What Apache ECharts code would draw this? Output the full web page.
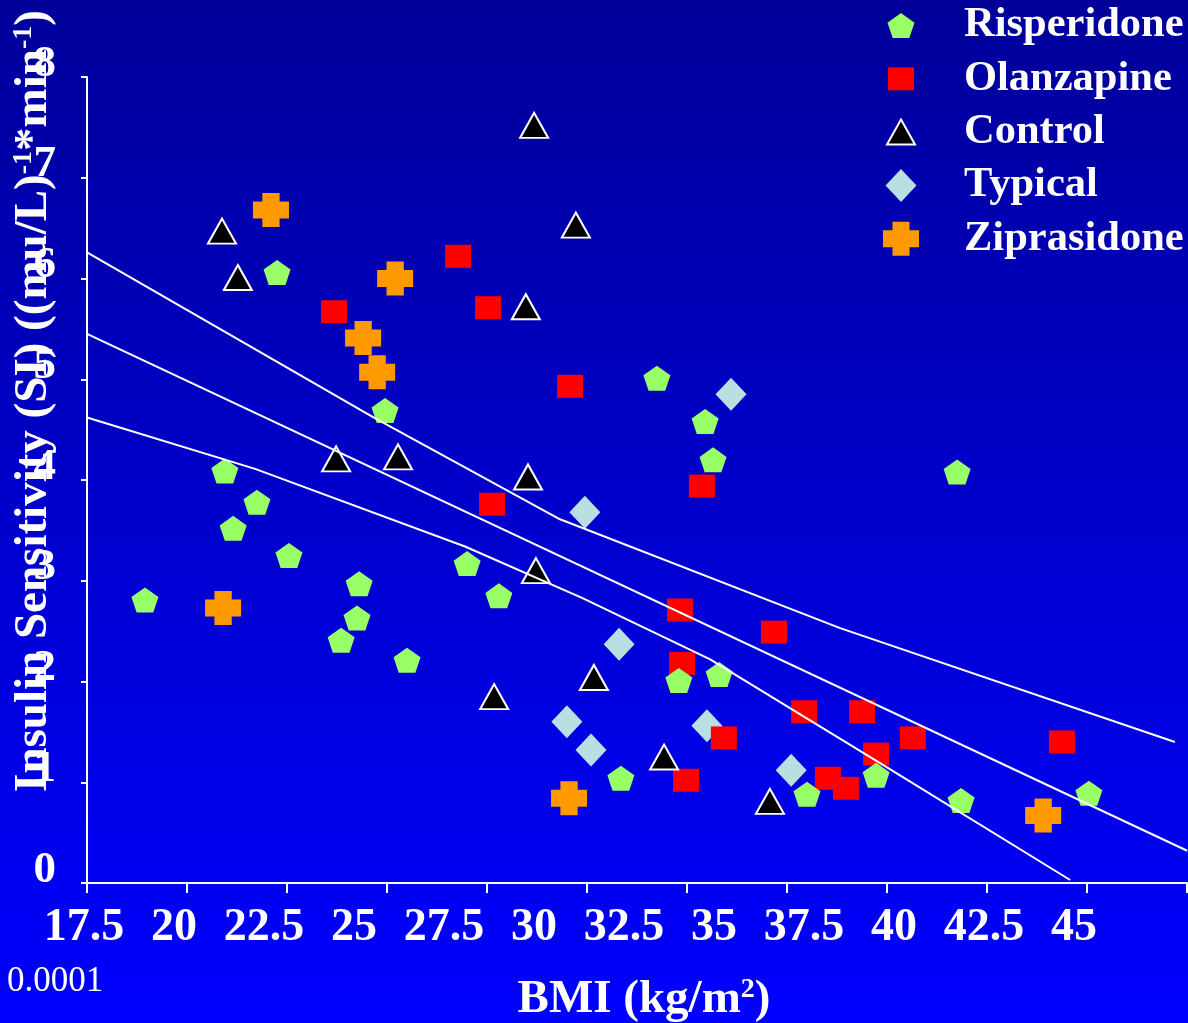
<!DOCTYPE html>
<html>
<head>
<meta charset="utf-8">
<script src="https://cdn.jsdelivr.net/npm/echarts@6/dist/echarts.min.js"></script>
<style>
  html, body { margin: 0; padding: 0; background: #0000cc; }
  #chart { width: 1188px; height: 1023px; }
</style>
</head>
<body>
<div id="chart"></div>
<script>
// Axis tick labels
const xTickLabels = ['17.5', '20', '22.5', '25', '27.5', '30', '32.5', '35', '37.5', '40', '42.5', '45'];
const yTickLabels = ['0', '1', '2', '3', '4', '5', '6', '7', '8'];

// [BMI (kg/m2), insulin sensitivity]
const risperidone = [
  [22.78, 6.06], [25.78, 4.69], [21.33, 4.09], [22.22, 3.78], [21.56, 3.52],
  [23.11, 3.25], [19.11, 2.81], [25.06, 2.97], [25.00, 2.63], [24.56, 2.41],
  [26.39, 2.21], [28.06, 3.17], [28.94, 2.85], [33.33, 5.01], [34.67, 4.58],
  [34.89, 4.20], [33.94, 2.01], [35.06, 2.07], [32.33, 1.04], [37.50, 0.88],
  [39.42, 1.07], [41.67, 4.08], [41.78, 0.82], [45.33, 0.89]
];
const olanzapine = [
  [24.36, 5.67], [27.81, 6.22], [28.64, 5.71], [30.92, 4.93], [28.75, 3.76],
  [34.58, 3.94], [33.97, 2.71], [34.03, 2.18], [36.58, 2.49], [35.19, 1.44],
  [34.14, 1.02], [37.42, 1.70], [39.03, 1.70], [39.42, 1.28], [38.08, 1.04],
  [38.58, 0.94], [40.44, 1.44], [44.58, 1.40]
];
const control = [
  [21.25, 6.47], [21.69, 6.01], [29.92, 7.52], [31.08, 6.53], [29.69, 5.72],
  [24.42, 4.21], [26.14, 4.23], [29.75, 4.03], [29.97, 3.10], [28.81, 1.85],
  [31.58, 2.04], [33.53, 1.25], [36.47, 0.81]
];
const typical = [
  [35.39, 4.85], [31.33, 3.68], [32.28, 2.37], [30.83, 1.60], [31.50, 1.32],
  [34.72, 1.56], [37.06, 1.12]
];
const ziprasidone = [
  [22.61, 6.68], [26.06, 6.00], [25.17, 5.41], [25.56, 5.07], [21.28, 2.73],
  [30.89, 0.84], [44.06, 0.67]
];

// Regression line with its upper and lower confidence bands
const regressionLine = [[17.5, 5.45], [48.06, 0.32]];
const upperBand = [[17.5, 6.26], [25.47, 4.62], [30.64, 3.61], [38.42, 2.53], [47.72, 1.40]];
const lowerBand = [[17.5, 4.62], [22.17, 4.11], [28.0, 3.34], [31.25, 2.83], [34.81, 2.22], [39.53, 1.19], [44.81, 0.03]];

const FONT = '"Liberation Serif", "Times New Roman", serif';
const WHITE = '#ffffff';

const PENTAGON = 'path://M50,0 L97.6,34.5 L79.4,90.5 L20.6,90.5 L2.4,34.5 Z';
const CROSS = 'path://M26,0 H74 V25 H100 V75 H74 V100 H26 V75 H0 V25 H26 Z';

// Legend icons drawn inside a common 36x34 box (corner moves keep the box size)
const BOX = 'M0,0 M36,34 ';
const LEGEND_ICONS = {
  Risperidone: 'path://' + BOX + 'M18,4.5 L31.5,14.2 L26.3,29.5 L9.7,29.5 L4.5,14.2 Z',
  Olanzapine: 'path://' + BOX + 'M5,5.5 H31 V28.5 H5 Z',
  Control: 'path://' + BOX + 'M18,4.5 L32,29.5 L4,29.5 Z',
  Typical: 'path://' + BOX + 'M18,0.5 L33.5,17 L18,33.5 L2.5,17 Z',
  Ziprasidone: 'path://' + BOX + 'M9.5,0 H26.5 V8.5 H36 V25.5 H26.5 V34 H9.5 V25.5 H0 V8.5 H9.5 Z'
};
const legendOrder = ['Risperidone', 'Olanzapine', 'Control', 'Typical', 'Ziprasidone'];

const chart = echarts.init(document.getElementById('chart'), null, { renderer: 'canvas' });

function lineSeries(name, data) {
  return {
    name: name, type: 'line', data: data, xAxisIndex: 0, yAxisIndex: 0,
    showSymbol: false, symbol: 'none', silent: true, z: 5,
    lineStyle: { color: WHITE, width: 2 }, animation: false
  };
}

const option = {
  animation: false,
  graphic: [
    {
      type: 'rect', z: -10, silent: true,
      shape: { x: 0, y: 0, width: 1188, height: 1023 },
      style: {
        fill: new echarts.graphic.LinearGradient(0, 0, 0, 1, [
          { offset: 0, color: '#000099' },
          { offset: 1, color: '#0000ff' }
        ])
      }
    },
    {
      type: 'text', left: 7, top: 964, silent: true,
      style: { text: '0.0001', fill: WHITE, font: 'normal 35px ' + FONT }
    }
  ],
  grid: { left: 87, right: 1, top: 77, bottom: 140, outerBoundsMode: 'none' },
  legend: {
    orient: 'vertical', left: 882, top: 4, padding: 0,
    itemWidth: 36, itemHeight: 34, itemGap: 10.3,
    data: legendOrder.map(n => ({ name: n, icon: LEGEND_ICONS[n] })),
    textStyle: {
      color: WHITE, fontFamily: FONT, fontWeight: 'bold', fontSize: 42.5,
      padding: [0, 0, 0, 40]
    }
  },
  xAxis: [
    {
      type: 'value', position: 'bottom', min: 17.5, max: 17.5 + 2.5 * 1100 / 90, interval: 2.5,
      axisLine: { show: true, onZero: false, lineStyle: { color: WHITE, width: 2 } },
      axisTick: { show: false }, splitLine: { show: false },
      axisLabel: {
        color: WHITE, fontFamily: FONT, fontWeight: 'bold', fontSize: 46, lineHeight: 46,
        margin: 22, padding: [0, 6, 0, 0], showMaxLabel: true,
        formatter: v => {
          const i = Math.round((v - 17.5) / 2.5);
          return (Math.abs(v - (17.5 + i * 2.5)) < 1e-6 && xTickLabels[i]) ? xTickLabels[i] : '';
        }
      },
      name: '{t|BMI (kg/m}{s|2}{t|)}', nameLocation: 'middle', nameGap: 93, nameMoveOverlap: false,
      nameTextStyle: {
        color: WHITE, fontFamily: FONT, fontWeight: 'bold', fontSize: 47, lineHeight: 47,
        padding: [0, 0, 0, 14],
        rich: {
          t: { color: WHITE, fontFamily: FONT, fontWeight: 'bold', fontSize: 47, lineHeight: 47 },
          s: { color: WHITE, fontFamily: FONT, fontWeight: 'bold', fontSize: 28, lineHeight: 28, verticalAlign: 'top' }
        }
      }
    },
    {
      type: 'value', position: 'bottom', min: 17.5, max: 45, interval: 2.5,
      axisLine: { show: false },
      axisTick: { show: true, length: 10, lineStyle: { color: WHITE, width: 2 } },
      axisLabel: { show: false }, splitLine: { show: false }
    }
  ],
  yAxis: {
    type: 'value', min: 0, max: 8, interval: 1,
    axisLine: { show: true, lineStyle: { color: WHITE, width: 2 } },
    axisTick: { show: true, length: 6, lineStyle: { color: WHITE, width: 2 } },
    splitLine: { show: false },
    axisLabel: {
      color: WHITE, fontFamily: FONT, fontWeight: 'bold', fontSize: 45, lineHeight: 26,
      margin: 31, verticalAlign: 'bottom',
      formatter: v => yTickLabels[Math.round(v)] || ''
    },
    name: '{t|Insulin Sensitivity (SI) ((mu/L)}{s|-1}{t|*min}{s|-1}{t|)}',
    nameLocation: 'middle', nameGap: 30, nameMoveOverlap: false,
    nameTextStyle: {
      color: WHITE, fontFamily: FONT, fontWeight: 'bold', fontSize: 47, lineHeight: 47,
      padding: [0, 0, 0, 158],
      rich: {
        t: { color: WHITE, fontFamily: FONT, fontWeight: 'bold', fontSize: 47, lineHeight: 47 },
        s: { color: WHITE, fontFamily: FONT, fontWeight: 'bold', fontSize: 28, lineHeight: 28, verticalAlign: 'top' }
      }
    }
  },
  series: [
    {
      name: 'Typical', type: 'scatter', data: typical, symbol: 'diamond', symbolSize: [31, 33],
      itemStyle: { color: '#b9dfe3', opacity: 1 }
    },
    {
      name: 'Olanzapine', type: 'scatter', data: olanzapine, symbol: 'rect', symbolSize: [26, 23],
      itemStyle: { color: '#ff0000', opacity: 1 }
    },
    {
      name: 'Risperidone', type: 'scatter', data: risperidone, symbol: PENTAGON, symbolSize: [27, 25],
      itemStyle: { color: '#99ff66', opacity: 1 }
    },
    {
      name: 'Control', type: 'scatter', data: control, symbol: 'triangle', symbolSize: [28, 25],
      itemStyle: { color: '#000000', borderColor: WHITE, borderWidth: 2, opacity: 1 }
    },
    {
      name: 'Ziprasidone', type: 'scatter', data: ziprasidone, symbol: CROSS, symbolSize: [36, 34],
      itemStyle: { color: '#ff9900', opacity: 1 }
    },
    lineSeries('Regression', regressionLine),
    lineSeries('Upper band', upperBand),
    lineSeries('Lower band', lowerBand)
  ]
};

chart.setOption(option);
</script>
</body>
</html>
